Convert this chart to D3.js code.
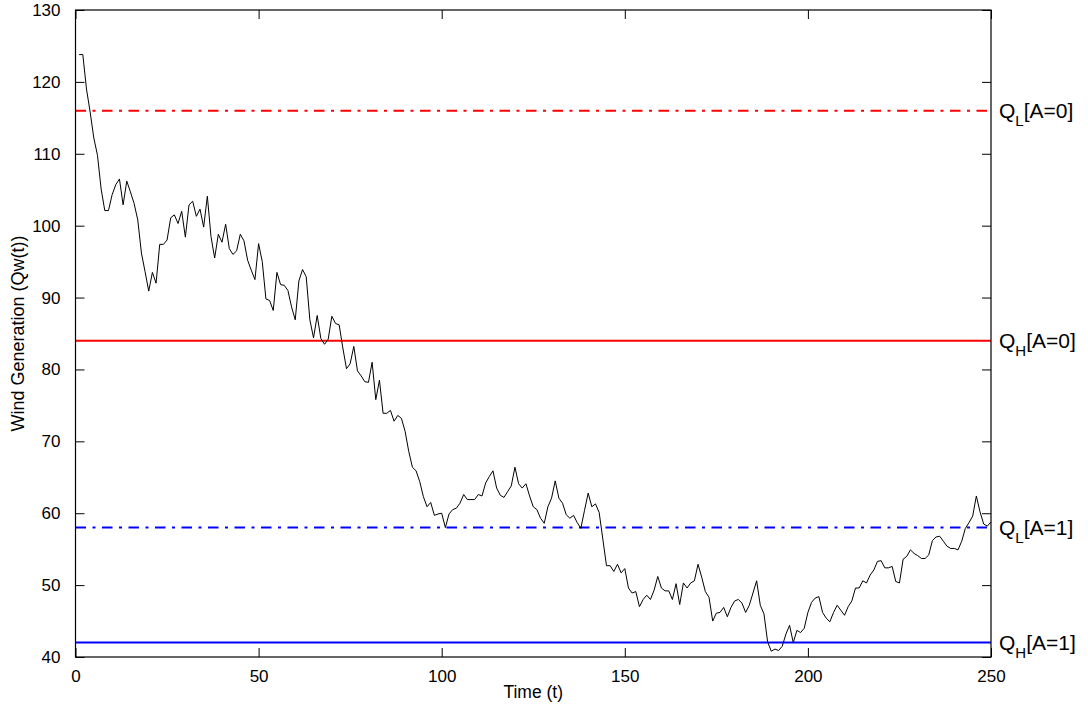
<!DOCTYPE html>
<html>
<head>
<meta charset="utf-8">
<script src="https://cdn.jsdelivr.net/npm/d3@7/dist/d3.min.js"></script>
<style>
  html, body { margin: 0; padding: 0; background: #fff; }
  svg { display: block; }
  text { font-family: "Liberation Sans", Arial, Helvetica, sans-serif; fill: #000; }
</style>
</head>
<body>
<svg id="chart" width="1088" height="711"></svg>
<script>
// Wind generation trace, one value per time step t = 1..250
const windGen = [
  123.8, 123.8, 119.0, 115.8, 112.2, 109.8, 105.1, 102.1, 102.1, 104.3,
  105.7, 106.5, 102.9, 106.2, 104.7, 103.1, 100.8, 96.2, 93.6, 90.9,
  93.5, 92.0, 97.4, 97.4, 98.0, 101.1, 101.5, 100.3, 102.0, 98.4,
  102.9, 103.4, 101.3, 102.3, 99.8, 104.1, 98.5, 95.5, 98.8, 97.7,
  100.2, 96.8, 96.0, 96.5, 98.8, 97.9, 95.2, 93.8, 92.5, 97.5,
  95.0, 89.8, 89.6, 88.2, 93.5, 91.8, 91.7, 91.0, 88.7, 86.9,
  92.3, 93.9, 92.9, 86.9, 84.4, 87.5, 84.3, 83.5, 84.2, 87.4,
  86.4, 86.2, 83.0, 80.1, 80.8, 83.2, 79.8, 79.1, 78.3, 78.2,
  81.0, 75.8, 78.5, 73.9, 73.9, 74.3, 72.8, 73.6, 73.2, 71.4,
  68.6, 66.4, 65.9, 64.4, 62.3, 60.9, 61.5, 59.7, 59.9, 60.0,
  58.0, 59.9, 60.5, 60.7, 61.4, 62.6, 61.9, 61.9, 61.9, 62.6,
  62.4, 64.2, 65.1, 65.9, 63.5, 62.5, 62.2, 63.0, 63.8, 66.4,
  64.1, 63.5, 64.1, 62.4, 60.9, 60.5, 59.3, 58.6, 60.9, 62.1,
  64.5, 62.1, 61.4, 59.8, 59.3, 59.7, 58.7, 57.9, 60.4, 62.8,
  60.9, 61.3, 60.1, 56.4, 52.7, 52.7, 51.9, 52.9, 51.7, 52.3,
  49.6, 48.9, 49.1, 47.0, 48.0, 48.6, 48.0, 49.3, 51.2, 49.6,
  49.2, 49.2, 48.0, 50.2, 47.3, 50.3, 49.6, 50.3, 50.6, 52.9,
  51.1, 49.1, 48.3, 45.0, 46.1, 46.2, 46.9, 45.6, 46.9, 47.8,
  48.0, 47.5, 46.2, 47.2, 48.9, 50.6, 47.2, 46.0, 42.1, 40.8,
  41.1, 40.9, 41.5, 43.2, 44.4, 42.0, 43.7, 43.4, 44.0, 46.2,
  47.6, 48.2, 48.4, 46.2, 45.4, 44.9, 46.2, 47.2, 46.5, 45.8,
  47.0, 47.8, 49.6, 49.6, 50.6, 50.3, 51.4, 52.1, 53.3, 53.4,
  52.4, 52.4, 52.6, 50.5, 50.3, 53.6, 54.0, 54.9, 54.4, 54.1,
  53.7, 53.7, 54.2, 56.2, 56.7, 56.8, 56.1, 55.4, 55.1, 55.1,
  54.9, 56.1, 57.9, 58.7, 59.6, 62.4, 60.2, 58.5, 58.2, 58.8
];
const timeSteps = windGen.map((_, i) => i + 1);

// Threshold levels
const thresholdNames = ["L", "H", "L", "H"];
const thresholdRegimes = ["[A=0]", "[A=0]", "[A=1]", "[A=1]"];
const thresholdValues = [116, 84, 58, 42];
const thresholdColors = ["#ff0000", "#ff0000", "#0000ff", "#0000ff"];
const thresholdDashed = [true, false, true, false];

// Axis ticks
const xTicks = [0, 50, 100, 150, 200, 250];
const yTicks = [40, 50, 60, 70, 80, 90, 100, 110, 120, 130];

const svg = d3.select("#chart");
const L = 75.5, R = 991, T = 10, B = 657;

const x = d3.scaleLinear().domain([0, 250]).range([L, R]);
const y = d3.scaleLinear().domain([40, 130]).range([B, T]);

const tickLen = 9;

// Threshold lines
thresholdValues.forEach((v, i) => {
  svg.append("line")
    .attr("x1", x(0)).attr("x2", x(250))
    .attr("y1", y(v)).attr("y2", y(v))
    .attr("stroke", thresholdColors[i])
    .attr("stroke-width", 2)
    .attr("stroke-dasharray", thresholdDashed[i] ? "10.5,6.5,3,6.5" : null);
});

// Series line
const line = d3.line()
  .x((d, i) => x(timeSteps[i]))
  .y(d => y(d));
svg.append("path")
  .datum(windGen)
  .attr("d", line)
  .attr("fill", "none")
  .attr("stroke", "#000")
  .attr("stroke-width", 1)
  .attr("stroke-linejoin", "round");

// Axes: ticks point inward on all four sides
const fontSize = 17;
const bottomAxis = d3.axisBottom(x).tickValues(xTicks).tickSizeInner(-tickLen).tickSizeOuter(0).tickPadding(tickLen + 4);
const topAxis = d3.axisTop(x).tickValues(xTicks).tickSizeInner(-tickLen).tickSizeOuter(0).tickFormat("");
const leftAxis = d3.axisLeft(y).tickValues(yTicks).tickSizeInner(-tickLen).tickSizeOuter(0).tickPadding(tickLen + 6);
const rightAxis = d3.axisRight(y).tickValues(yTicks).tickSizeInner(-tickLen).tickSizeOuter(0).tickFormat("");

function styleAxis(g) {
  g.select(".domain").remove();
  g.selectAll(".tick line").attr("stroke", "#000").attr("stroke-width", 1);
  g.selectAll(".tick text")
    .attr("font-size", fontSize)
    .attr("font-family", "Liberation Sans, Arial, Helvetica, sans-serif")
    .attr("fill", "#000");
}

svg.append("g").attr("transform", `translate(0,${B})`).call(bottomAxis).call(styleAxis);
svg.append("g").attr("transform", `translate(0,${T})`).call(topAxis).call(styleAxis);
svg.append("g").attr("transform", `translate(${L},0)`).call(leftAxis).call(styleAxis);
svg.append("g").attr("transform", `translate(${R},0)`).call(rightAxis).call(styleAxis);

// Box frame
svg.append("rect")
  .attr("x", L).attr("y", T)
  .attr("width", R - L).attr("height", B - T)
  .attr("fill", "none").attr("stroke", "#000").attr("stroke-width", 1.2);

// Axis titles
svg.append("text")
  .attr("x", (L + R) / 2).attr("y", 698)
  .attr("text-anchor", "middle")
  .attr("font-size", 17.5)
  .text("Time (t)");

svg.append("text")
  .attr("transform", `translate(24,${(T + B) / 2}) rotate(-90)`)
  .attr("text-anchor", "middle")
  .attr("font-size", 18)
  .text("Wind Generation (Qw(t))");

// Threshold labels at the right edge
thresholdValues.forEach((v, i) => {
  const t = svg.append("text")
    .attr("x", 999)
    .attr("y", y(v) + 7.5)
    .attr("font-size", 21);
  t.append("tspan").text("Q");
  t.append("tspan").attr("font-size", 15).attr("dy", 8).text(thresholdNames[i]);
  t.append("tspan").attr("dy", -8).text(thresholdRegimes[i]);
});
</script>
</body>
</html>
